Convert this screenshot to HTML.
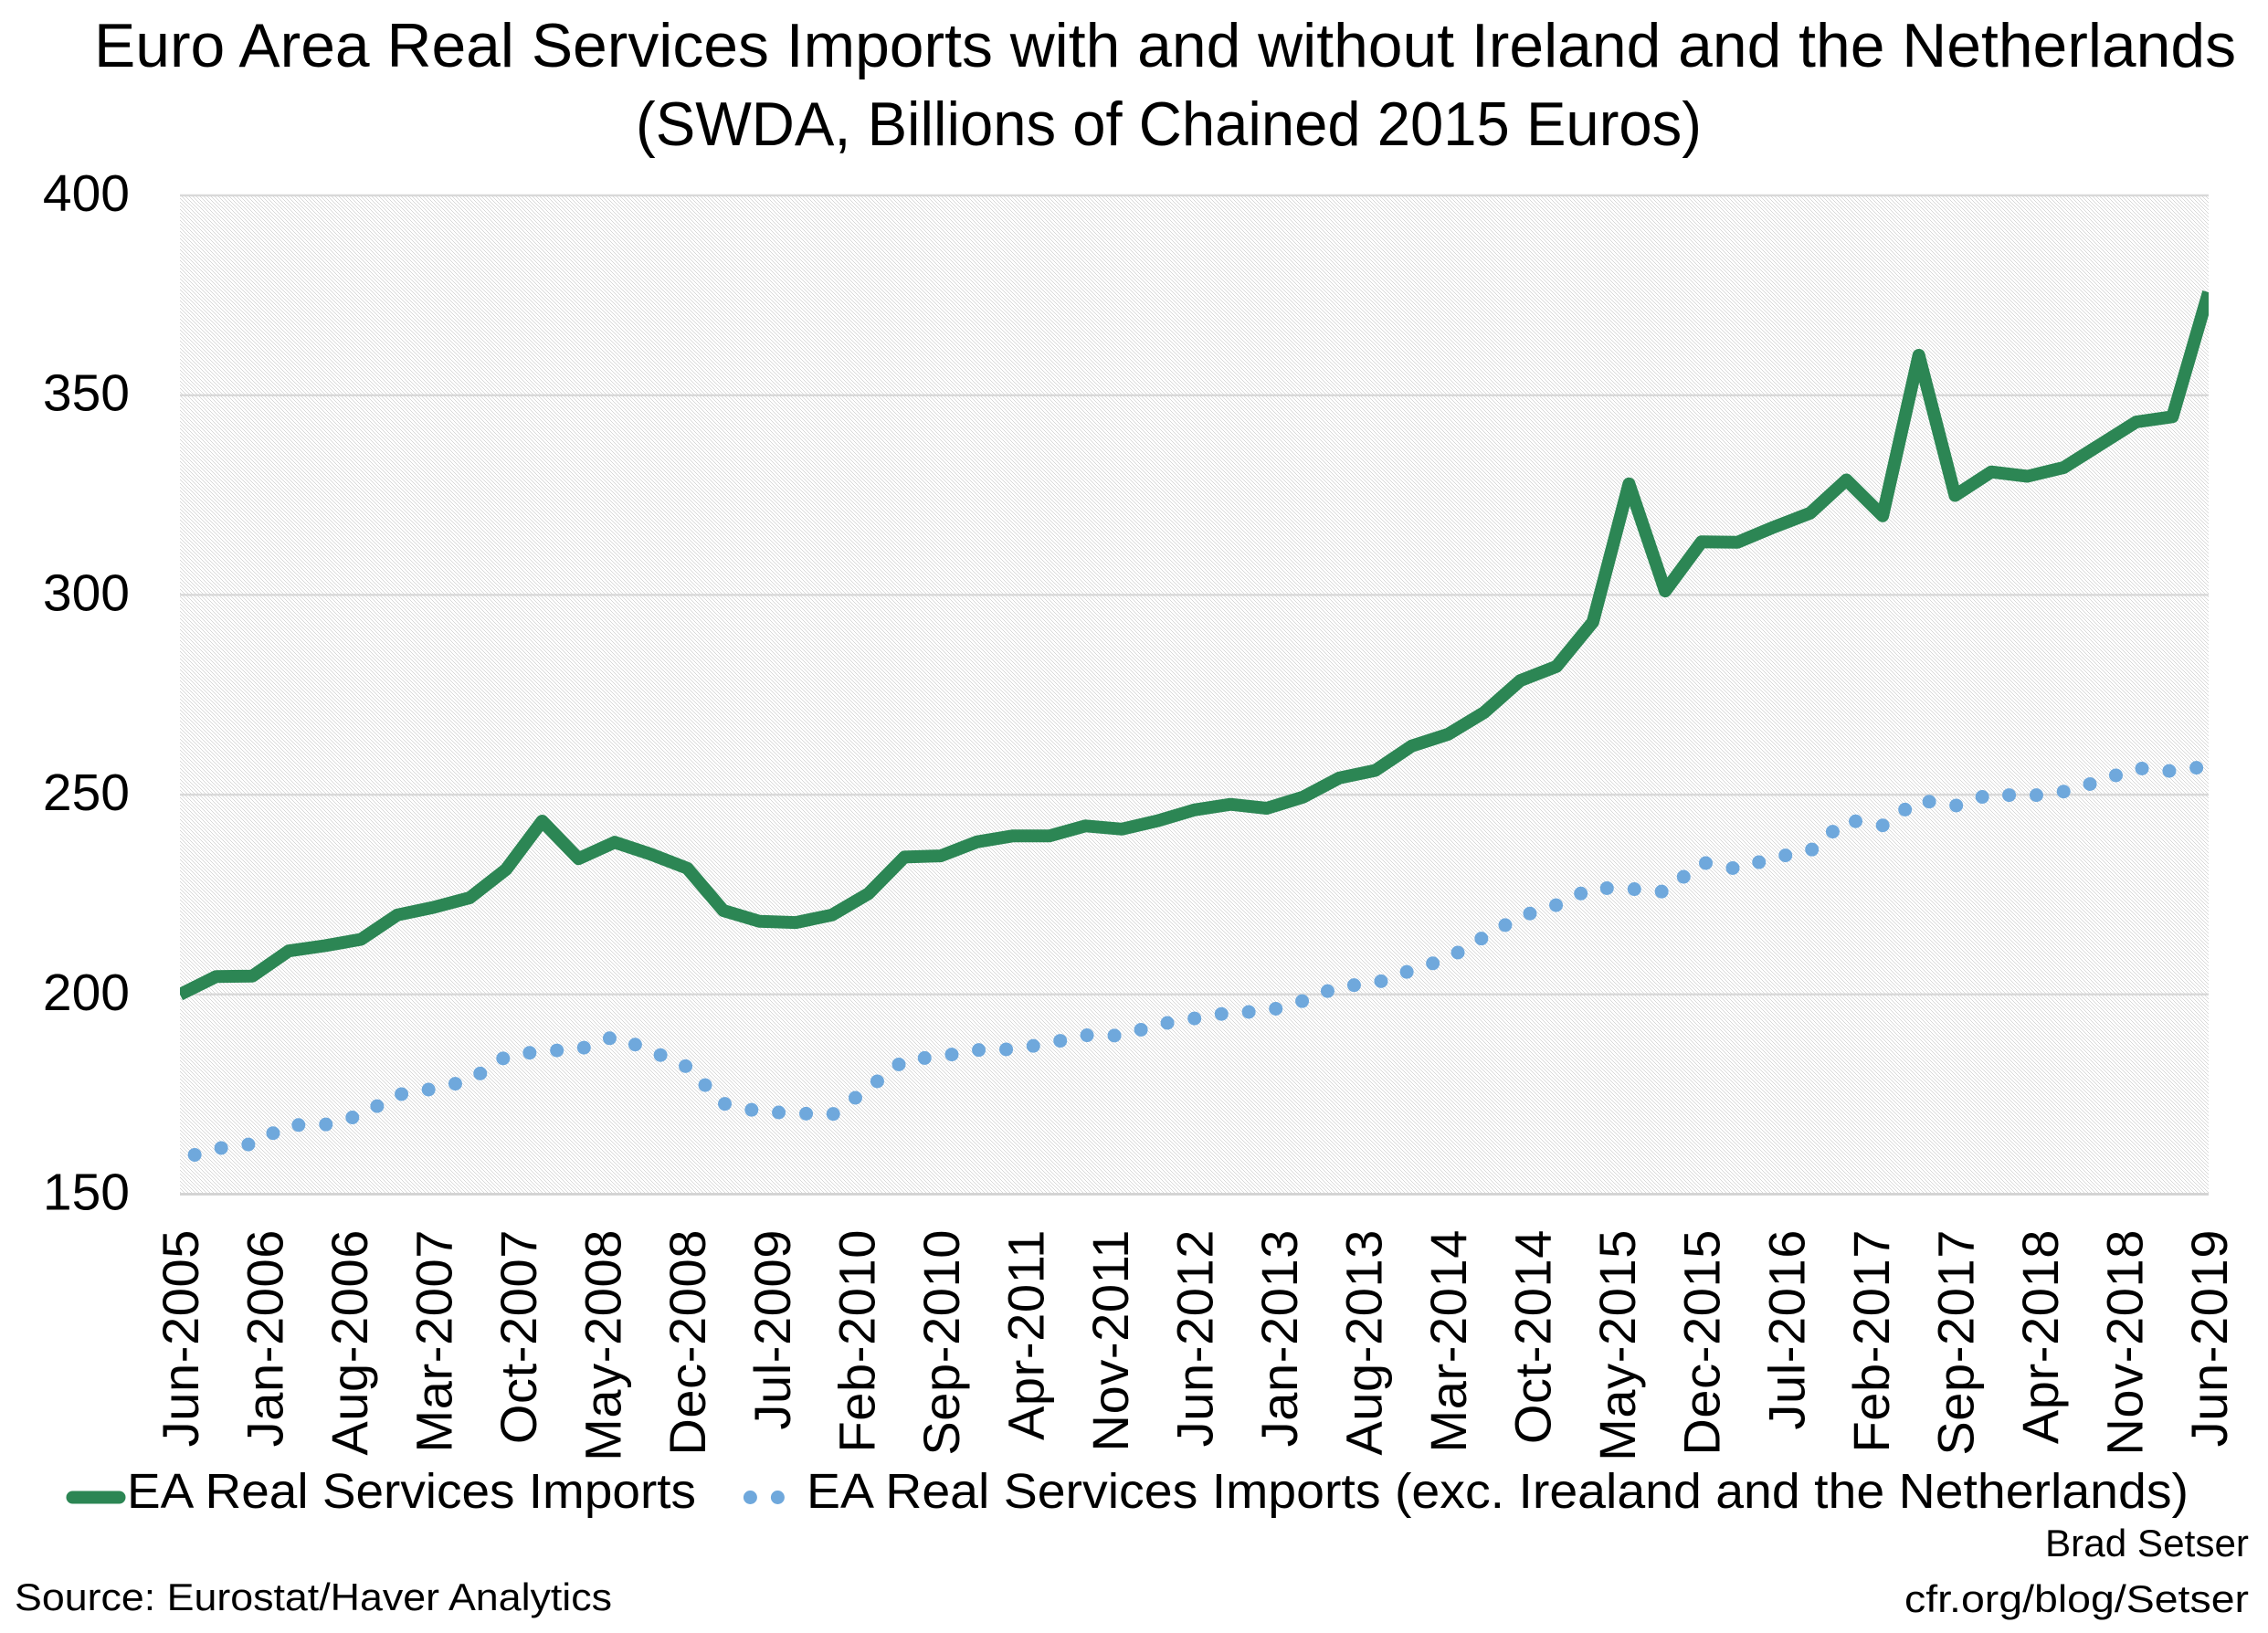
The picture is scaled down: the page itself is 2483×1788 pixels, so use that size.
<!DOCTYPE html>
<html>
<head>
<meta charset="utf-8">
<style>
  html,body{margin:0;padding:0;background:#ffffff;}
  svg{display:block;}
  text{font-family:"Liberation Sans", Arial, sans-serif; fill:#000;}
</style>
</head>
<body>
<svg width="2483" height="1788" viewBox="0 0 2483 1788" xmlns="http://www.w3.org/2000/svg">
  <defs>
    <pattern id="hatch" patternUnits="userSpaceOnUse" width="4" height="4">
      <rect x="0" y="0" width="4" height="4" fill="#ffffff"/>
      <rect x="0" y="0" width="1" height="1" fill="#d8d8d8"/>
      <rect x="1" y="1" width="1" height="1" fill="#d8d8d8"/>
      <rect x="2" y="2" width="1" height="1" fill="#d8d8d8"/>
      <rect x="3" y="3" width="1" height="1" fill="#d8d8d8"/>
    </pattern>
    <clipPath id="plotclip">
      <rect x="197" y="150" width="2221" height="1200"/>
    </clipPath>
  </defs>

  <rect x="0" y="0" width="2483" height="1788" fill="#ffffff"/>

  <!-- Title -->
  <text x="103" y="73" font-size="68" textLength="2345" lengthAdjust="spacingAndGlyphs">Euro Area Real Services Imports with and without Ireland and the Netherlands</text>
  <text x="696" y="159" font-size="68" textLength="1167" lengthAdjust="spacingAndGlyphs">(SWDA, Billions of Chained 2015 Euros)</text>

  <!-- Plot area hatch -->
  <rect x="197" y="214" width="2221" height="1094" fill="url(#hatch)"/>

  <!-- Gridlines -->
  <g stroke="#d9d9d9" stroke-width="2.5">
    <line x1="197" y1="214" x2="2418" y2="214"/>
    <line x1="197" y1="432.7" x2="2418" y2="432.7"/>
    <line x1="197" y1="651.4" x2="2418" y2="651.4"/>
    <line x1="197" y1="870.1" x2="2418" y2="870.1"/>
    <line x1="197" y1="1088.8" x2="2418" y2="1088.8"/>
  </g>
  <line x1="197" y1="1307.5" x2="2418" y2="1307.5" stroke="#d4d4d4" stroke-width="3"/>

  <!-- Y-axis labels -->
  <g font-size="57" text-anchor="end">
    <text x="142" y="231">400</text>
    <text x="142" y="449.7">350</text>
    <text x="142" y="668.4">300</text>
    <text x="142" y="887.1">250</text>
    <text x="142" y="1105.8">200</text>
    <text x="142" y="1324.5">150</text>
  </g>

  <!-- Series -->
  <g clip-path="url(#plotclip)">
    <polyline fill="none" stroke="#6fa8dc" stroke-width="15" stroke-linecap="round" stroke-linejoin="round"
      stroke-dasharray="0 30" stroke-dashoffset="13.2"
      points="197,1269.1 236.7,1257.7 276.3,1252.5 316,1231.9 355.6,1231.5 395.3,1221 435,1198.7 474.6,1192.1 514.3,1182.9 554,1156.7 593.6,1150.6 633.3,1149.3 672.9,1134.8 712.6,1150.6 752.3,1168.1 791.9,1208.3 831.6,1217.1 871.2,1218.8 910.9,1220.6 950.6,1191.7 990.2,1160.6 1029.9,1156.7 1069.5,1149.7 1109.2,1148.8 1148.9,1142.2 1188.5,1133.5 1228.2,1133.9 1267.9,1121.7 1307.5,1115.1 1347.2,1108.6 1386.8,1107.3 1426.5,1095.9 1466.2,1080.1 1505.8,1076.6 1545.5,1062.2 1585.1,1049.5 1624.8,1025.9 1664.5,1003.6 1704.1,990.9 1743.8,972.1 1783.4,973 1823.1,976.5 1862.8,944.1 1902.4,951.5 1942.1,938.8 1981.8,931.8 2021.4,897.7 2061.1,903.8 2100.7,875.8 2140.4,882.4 2180,869.3 2219.7,871.9 2259.4,866.7 2299,855.3 2338.7,840.9 2378.4,844.4 2418,838.7"/>
    <polyline fill="none" stroke="#2c8654" stroke-width="14" stroke-linecap="butt" stroke-linejoin="round"
      points="197,1088.9 236.7,1069.2 276.3,1068.7 316,1041.2 355.6,1035.5 395.3,1028.5 435,1001.8 474.6,993.5 514.3,983 554,952 593.6,899 633.3,940.2 672.9,922.2 712.6,935.3 752.3,950.6 791.9,997 831.6,1008.8 871.2,1010.1 910.9,1001.8 950.6,978.6 990.2,938.4 1029.9,937.1 1069.5,921.8 1109.2,915.2 1148.9,915.2 1188.5,904.3 1228.2,907.8 1267.9,898.6 1307.5,886.8 1347.2,880.7 1386.8,885 1426.5,872.8 1466.2,851.8 1505.8,843.5 1545.5,816.8 1585.1,804.1 1624.8,780.1 1664.5,745.1 1704.1,729.7 1743.8,681.2 1783.4,529.8 1823.1,647.1 1862.8,593.3 1902.4,593.7 1942.1,577.1 1981.8,561.8 2021.4,525.5 2061.1,564.8 2100.7,389 2140.4,542.5 2180,516.7 2219.7,521.5 2259.4,511.9 2299,487 2338.7,462 2378.4,456.3 2418,320"/>
  </g>

  <!-- X-axis labels (rotated) -->
  <g font-size="56" text-anchor="end" letter-spacing="0.6">
    <text transform="translate(217,1346) rotate(-90)">Jun-2005</text>
    <text transform="translate(309.5,1346) rotate(-90)">Jan-2006</text>
    <text transform="translate(402.1,1346) rotate(-90)">Aug-2006</text>
    <text transform="translate(494.6,1346) rotate(-90)">Mar-2007</text>
    <text transform="translate(587.2,1346) rotate(-90)">Oct-2007</text>
    <text transform="translate(679.7,1346) rotate(-90)">May-2008</text>
    <text transform="translate(772.2,1346) rotate(-90)">Dec-2008</text>
    <text transform="translate(864.8,1346) rotate(-90)">Jul-2009</text>
    <text transform="translate(957.3,1346) rotate(-90)">Feb-2010</text>
    <text transform="translate(1049.9,1346) rotate(-90)">Sep-2010</text>
    <text transform="translate(1142.4,1346) rotate(-90)">Apr-2011</text>
    <text transform="translate(1234.9,1346) rotate(-90)">Nov-2011</text>
    <text transform="translate(1327.5,1346) rotate(-90)">Jun-2012</text>
    <text transform="translate(1420,1346) rotate(-90)">Jan-2013</text>
    <text transform="translate(1512.6,1346) rotate(-90)">Aug-2013</text>
    <text transform="translate(1605.1,1346) rotate(-90)">Mar-2014</text>
    <text transform="translate(1697.6,1346) rotate(-90)">Oct-2014</text>
    <text transform="translate(1790.2,1346) rotate(-90)">May-2015</text>
    <text transform="translate(1882.7,1346) rotate(-90)">Dec-2015</text>
    <text transform="translate(1975.3,1346) rotate(-90)">Jul-2016</text>
    <text transform="translate(2067.8,1346) rotate(-90)">Feb-2017</text>
    <text transform="translate(2160.3,1346) rotate(-90)">Sep-2017</text>
    <text transform="translate(2252.9,1346) rotate(-90)">Apr-2018</text>
    <text transform="translate(2345.4,1346) rotate(-90)">Nov-2018</text>
    <text transform="translate(2438,1346) rotate(-90)">Jun-2019</text>
  </g>

  <!-- Legend -->
  <line x1="79.5" y1="1639.5" x2="130.5" y2="1639.5" stroke="#2c8654" stroke-width="14" stroke-linecap="round"/>
  <text x="139" y="1651" font-size="54" textLength="623" lengthAdjust="spacingAndGlyphs">EA Real Services Imports</text>
  <circle cx="821.4" cy="1639.5" r="7.5" fill="#6fa8dc"/>
  <circle cx="851.4" cy="1639.5" r="7.5" fill="#6fa8dc"/>
  <text x="883" y="1651" font-size="54" textLength="1513" lengthAdjust="spacingAndGlyphs">EA Real Services Imports (exc. Irealand and the Netherlands)</text>

  <!-- Footer -->
  <text x="16" y="1763" font-size="42" textLength="654" lengthAdjust="spacingAndGlyphs">Source: Eurostat/Haver Analytics</text>
  <text x="2239" y="1704" font-size="42" textLength="223" lengthAdjust="spacingAndGlyphs">Brad Setser</text>
  <text x="2085" y="1765" font-size="42" textLength="377" lengthAdjust="spacingAndGlyphs">cfr.org/blog/Setser</text>
</svg>
</body>
</html>
